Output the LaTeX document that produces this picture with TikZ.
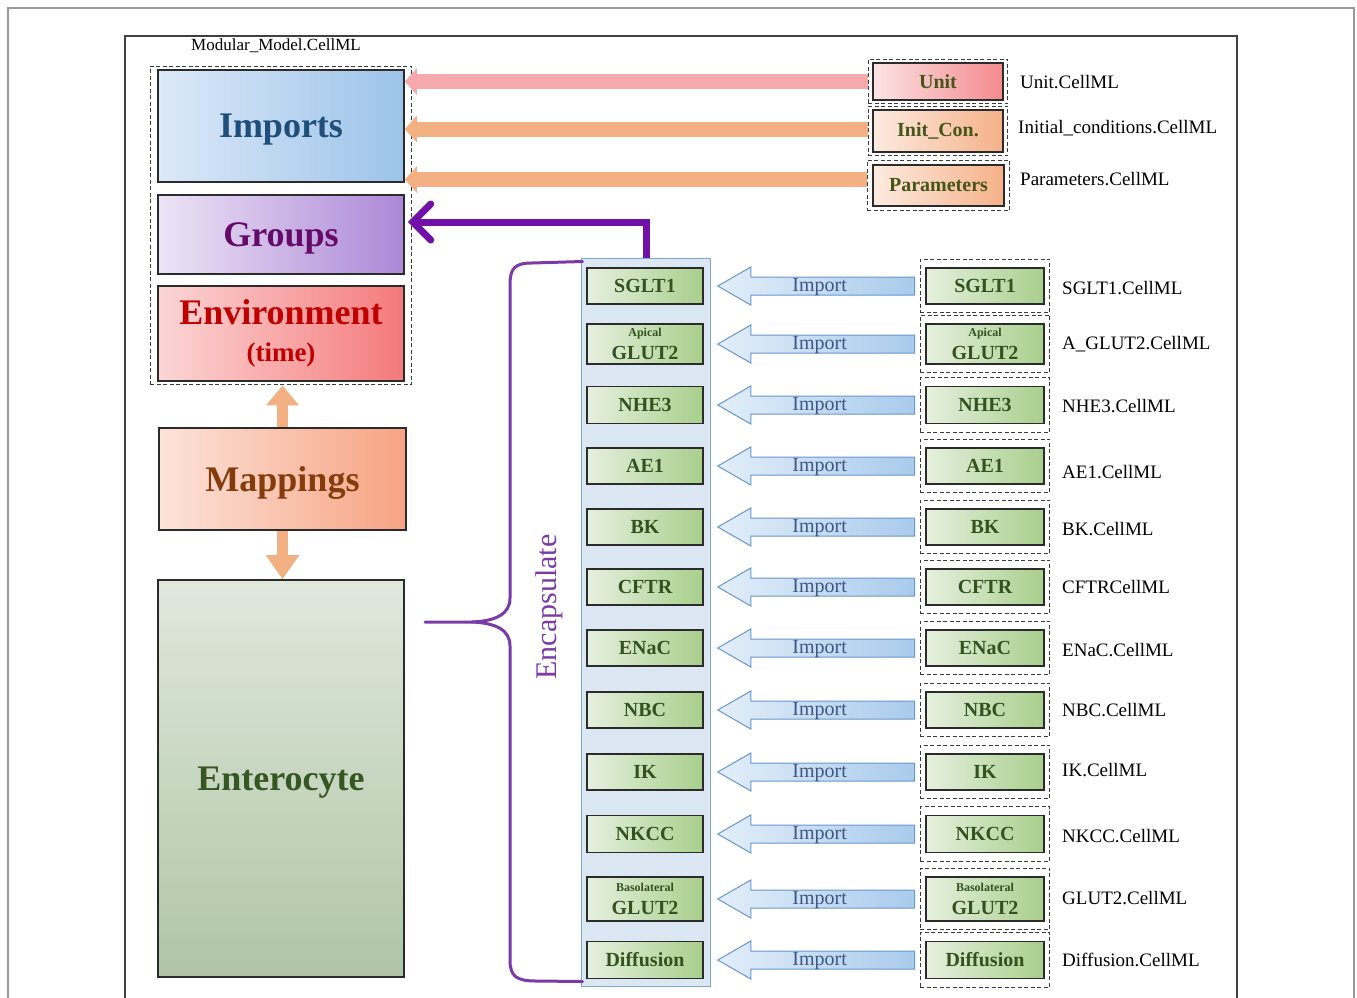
\documentclass[tikz,border=0pt]{standalone}
\usepackage{fontspec}
\setmainfont{Liberation Serif}
\usetikzlibrary{arrows.meta,fit,calc}
\definecolor{boxline}{HTML}{2B2B2B}
\definecolor{dashc}{HTML}{3A3A3A}
\definecolor{gL}{HTML}{E6F0DF}
\definecolor{gR}{HTML}{A8CF8C}
\definecolor{gtext}{HTML}{34521F}
\definecolor{panelF}{HTML}{DCE7F4}
\definecolor{panelD}{HTML}{7FA8D0}
\definecolor{impL}{HTML}{E3EEF9}
\definecolor{impR}{HTML}{A9CBEC}
\definecolor{impD}{HTML}{6797CC}
\definecolor{impT}{HTML}{3F5785}
\definecolor{pinkA}{HTML}{F5A9AC}
\definecolor{orA}{HTML}{F3B183}
\definecolor{purpA}{HTML}{7012A8}
\definecolor{purpB}{HTML}{7A3AA8}
\definecolor{impoL}{HTML}{DCE9F8}
\definecolor{impoR}{HTML}{9CC3EA}
\definecolor{impoT}{HTML}{1F4E79}
\definecolor{grpL}{HTML}{EDE4F5}
\definecolor{grpR}{HTML}{AC88D8}
\definecolor{grpT}{HTML}{650A68}
\definecolor{envL}{HTML}{FCD6D6}
\definecolor{envR}{HTML}{F47A7B}
\definecolor{envT}{HTML}{C00000}
\definecolor{mapL}{HTML}{FDE3DA}
\definecolor{mapR}{HTML}{F6A382}
\definecolor{mapT}{HTML}{843C0C}
\definecolor{entT1}{HTML}{E0E8DD}
\definecolor{entB}{HTML}{AFC5A4}
\definecolor{entT}{HTML}{375623}
\definecolor{unitL}{HTML}{FCE3E4}
\definecolor{unitR}{HTML}{F48A8E}
\definecolor{icL}{HTML}{FDEBE0}
\definecolor{icR}{HTML}{F5B189}
\definecolor{smallT}{HTML}{45561A}
\newcommand{\twol}[2]{{\fontsize{12}{12}\selectfont #1}\\[3pt]#2}
\begin{document}
\begin{tikzpicture}[x=1pt,y=-1pt,
  bigbox/.style={draw=boxline, line width=1.6pt, inner sep=0pt, font=\bfseries\fontsize{36}{38}\selectfont, align=center},
  onel/.style={text depth=0pt},
  gbox/.style={draw=boxline, line width=1.6pt, left color=gL, right color=gR, minimum width=116pt, inner sep=0pt, text=gtext, font=\bfseries\fontsize{20}{20}\selectfont, align=center},
  sbox/.style={draw=boxline, line width=1.6pt, minimum width=130pt, inner sep=0pt, text=smallT, font=\bfseries\fontsize{20}{20}\selectfont},
  dbox/.style={draw=dashc, dash pattern=on 4pt off 2.5pt, line width=1.3pt, inner xsep=5pt, inner ysep=8pt},
  flab/.style={anchor=west, inner sep=0pt, font=\fontsize{19}{19}\selectfont},
  impa/.style={draw=impD, line width=1pt, left color=impL, right color=impR},
  imptext/.style={text=impT, inner sep=0pt, font=\fontsize{20}{20}\selectfont},
  fat/.style={line width=15pt},
  brace/.style={draw=purpB, line width=3pt, line cap=round}
]
\useasboundingbox (0,0) rectangle (1357,997);
\fill[white] (0,0) rectangle (1357,997);
% frames
\draw[gray!80, line width=1.2pt] (8,8) rectangle (1354,1010);
\draw[black!75, line width=2pt] (125,36) rectangle (1237,1010);
\node[font=\fontsize{17}{17}\selectfont, inner sep=0pt] (title) at (276,46) {Modular\_Model.CellML};

% left column
\node[bigbox, onel, left color=impoL, right color=impoR, text=impoT, minimum width=246pt, minimum height=112pt] (imports) at (281,126) {Imports};
\node[bigbox, onel, left color=grpL, right color=grpR, text=grpT, minimum width=246pt, minimum height=79pt] (groups) at (281,234.5) {Groups};
\node[bigbox, left color=envL, right color=envR, text=envT, minimum width=246pt, minimum height=95pt] (env) at (281,333.5) {Environment\\[-1pt]{\fontsize{27}{27}\selectfont (time)}};
\node[dbox, fit=(imports)(env), inner xsep=7pt, inner ysep=3pt] (model) {};
\node[bigbox, onel, left color=mapL, right color=mapR, text=mapT, minimum width=247pt, minimum height=102pt] (mappings) at (282.5,479) {Mappings};
\node[bigbox, onel, top color=entT1, bottom color=entB, text=entT, minimum width=246pt, minimum height=397pt] (entero) at (281,778.5) {Enterocyte};

\draw[line width=11pt, orA, -{Triangle[length=20pt,width=32pt]}] (mappings.north) -- (mappings.north |- model.south);
\draw[line width=11pt, orA, -{Triangle[length=24pt,width=32pt]}] (mappings.south) -- (mappings.south |- entero.north);

% top right boxes
\node[sbox, left color=unitL, right color=unitR, minimum height=37pt] (unit) at (938,81.5) {Unit};
\node[dbox, fit=(unit), inner xsep=4pt, inner ysep=3pt] (unitd) {};
\node[sbox, left color=icL, right color=icR, minimum height=42pt] (initc) at (938,131) {Init\_Con.};
\node[dbox, fit=(initc), inner xsep=4pt, inner ysep=3pt] (initcd) {};
\node[sbox, left color=icL, right color=icR, minimum height=41pt, minimum width=131pt] (params) at (938.5,185.5) {Parameters};
\node[dbox, fit=(params), inner xsep=5pt, inner ysep=4pt] (paramsd) {};
\node[flab] (unitf) at (1020,82) {Unit.CellML};
\node[flab] (initf) at (1018,128) {Initial\_conditions.CellML};
\node[flab] (paramf) at (1020,179) {Parameters.CellML};

\draw[fat, pinkA, -{Triangle[length=12pt,width=26pt]}] (unitd.west) -- (imports.east |- unitd.west);
\draw[fat, orA, -{Triangle[length=12pt,width=26pt]}] ($(initcd.west)+(0,-2)$) -- (imports.east |- {$(initcd.west)+(0,-2)$});
\draw[fat, orA, -{Triangle[length=12pt,width=26pt]}] ($(paramsd.west)+(0,-6)$) -- (imports.east |- {$(paramsd.west)+(0,-6)$});

% panel
\node[draw=panelD, fill=panelF, line width=1pt, minimum width=129pt, minimum height=728pt, inner sep=0pt] (panel) at (645.5,622) {};

% purple arrow
\draw[purpA, line width=7pt, line join=miter, -{Straight Barb[length=18pt,width=36pt,line cap=round]}] ($(panel.north west)+(66,0)$) |- ($(groups.east)+(3,-12.5)$);

% brace
\coordinate (btip) at (425,622);
\draw[brace] ($(panel.north west)+(2,4)$) -- (532,263) .. controls (514,263) and (510,269) .. (510,285) -- (510,598) .. controls (510,614) and (496,621) .. (472,622) -- (btip);
\draw[brace] (472,622) .. controls (496,623) and (510,630) .. (510,646) -- (510,960) .. controls (510,976) and (516,981) .. (536,981) -- ($(panel.south west)+(2,-5)$);
\node[rotate=90, text=purpB, inner sep=0pt, font=\fontsize{30}{30}\selectfont] (encap) at (549,607) {Encapsulate};

% rows
\foreach \i/\y/\h/\t/\lab/\ly in {
  1/286/36/{SGLT1}/{SGLT1.CellML}/288,
  2/344/40/{\twol{Apical}{GLUT2}}/{A\_GLUT2.CellML}/344,
  3/405/37/{NHE3}/{NHE3.CellML}/406,
  4/466/36/{AE1}/{AE1.CellML}/472,
  5/527/36/{BK}/{BK.CellML}/529,
  6/587/36/{CFTR}/{CFTRCellML}/587,
  7/648/36/{ENaC}/{ENaC.CellML}/650,
  8/710/36/{NBC}/{NBC.CellML}/710,
  9/772/36/{IK}/{IK.CellML}/770,
  10/834/37/{NKCC}/{NKCC.CellML}/836,
  11/899/44/{\twol{Basolateral}{GLUT2}}/{GLUT2.CellML}/898,
  12/960/37/{Diffusion}/{Diffusion.CellML}/960} {
  \node[gbox, minimum height=\h pt] (L\i) at (645,\y) {\t};
  \node[gbox, minimum height=\h pt, minimum width=118pt] (R\i) at (985,\y) {\t};
  \node[dbox, fit=(R\i)] (D\i) {};
  \path[impa] ($(D\i.west)+(-5,-9)$) -- ($(L\i.east)+(47,-9)$) -- ($(L\i.east)+(47,-19)$) -- ($(L\i.east)+(14,0)$) -- ($(L\i.east)+(47,19)$) -- ($(L\i.east)+(47,9)$) -- ($(D\i.west)+(-5,9)$) -- cycle;
  \node[imptext] (I\i) at ($(L\i.east)!0.5!(D\i.west)+(8,1)$) {Import};
  \node[flab] (F\i) at (1062,\ly) {\lab};
}
\end{tikzpicture}
\end{document}
